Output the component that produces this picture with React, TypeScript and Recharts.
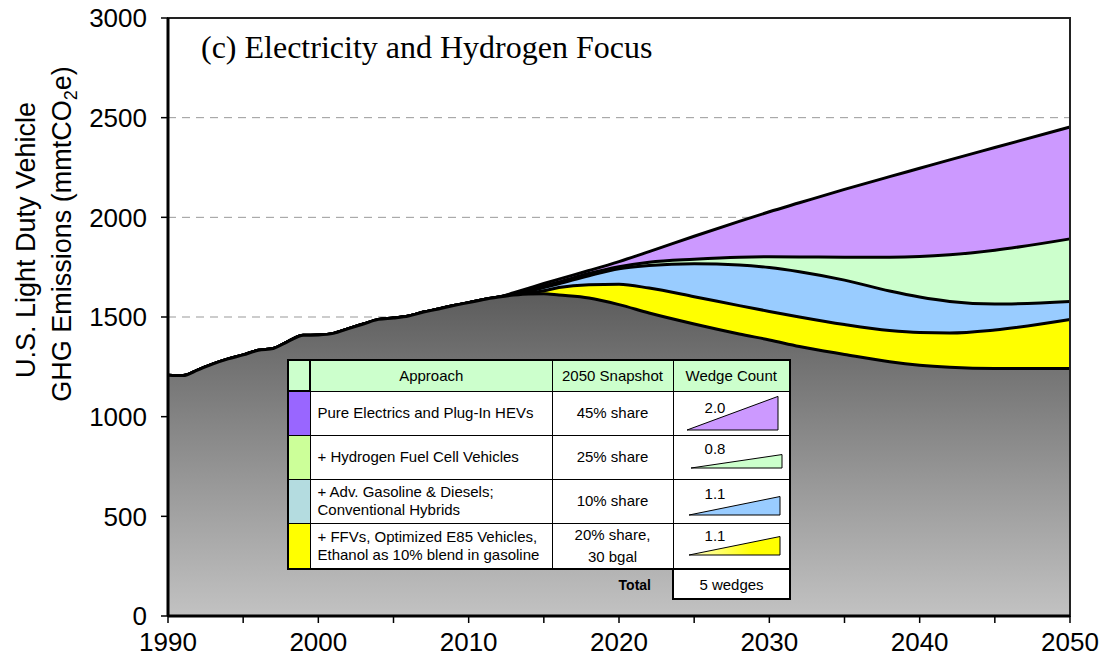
import { Area, CartesianGrid, ComposedChart, ReferenceArea, XAxis, YAxis } from "recharts";

// historical emissions (mmtCO2e)
const histYears = [1990, 1991, 1992, 1993, 1994, 1995, 1996, 1997, 1998, 1999, 2000, 2001, 2002, 2003, 2004, 2005, 2006, 2007, 2008, 2009, 2010, 2011];
const histBase = [1208, 1206, 1235, 1265, 1290, 1310, 1333, 1342, 1378, 1408, 1410, 1418, 1442, 1465, 1488, 1495, 1505, 1525, 1540, 1558, 1572, 1588];

// projection: top edge of each band
const projYears = [2012, 2013, 2014, 2015, 2016, 2018, 2020, 2022, 2025, 2028, 2030, 2032, 2035, 2038, 2040, 2042, 2045, 2050];
const projBase = [1600, 1610, 1616, 1617, 1610, 1595, 1562, 1520, 1465, 1415, 1385, 1352, 1312, 1275, 1258, 1248, 1242, 1242];
const ethanolTop = [1600, 1611, 1620, 1632, 1648, 1662, 1664, 1645, 1602, 1557, 1528, 1500, 1462, 1432, 1422, 1420, 1435, 1487];
const efficiencyTop = [1600, 1614, 1630, 1648, 1667, 1707, 1742, 1758, 1767, 1761, 1748, 1727, 1685, 1630, 1600, 1578, 1565, 1578];
const hydrogenTop = [1600, 1617, 1636, 1656, 1676, 1718, 1752, 1775, 1790, 1800, 1802, 1801, 1800, 1800, 1803, 1812, 1835, 1892];
const businessAsUsual = [1600, 1622, 1645, 1668, 1690, 1733, 1778, 1828, 1905, 1980, 2028, 2073, 2140, 2204, 2246, 2288, 2350, 2453];

const yTicks = [0, 500, 1000, 1500, 2000, 2500, 3000];
const xTicks = [1990, 1995, 2000, 2005, 2010, 2015, 2020, 2025, 2030, 2035, 2040, 2045, 2050];

// table
const approaches = [
  ["Pure Electrics and Plug-In HEVs"],
  ["+ Hydrogen Fuel Cell Vehicles"],
  ["+ Adv. Gasoline & Diesels;", "Conventional Hybrids"],
  ["+ FFVs, Optimized E85 Vehicles,", "Ethanol as 10% blend in gasoline"],
];
const snapshots = [["45% share"], ["25% share"], ["10% share"], ["20% share,", "30 bgal"]];
const wedgeCounts = [2.0, 0.8, 1.1, 1.1];
const totalWedges = "5 wedges";

const swatchColors = ["#9966FF", "#CCFF99", "#B4DCE0", "#FFFF00"];
const wedgeColors = ["#CC99FF", "#CCFFCC", "#99CCFF", "#FFFF00"];
const wedgeFades = ["#CC99FF", "#CCFFCC", "#99CCFF", "#FFFFCC"];
const rowHeights = [44, 44, 44, 46];
const wedgeBottoms = [38, 32, 35, 31];
const wedgeLefts = [13, 17, 15, 15];
const labelBaselines = [21, 18, 19, 17];

const rows = [
  ...histYears.map((year, i) => ({
    year,
    base: histBase[i],
    ethanol: histBase[i],
    efficiency: histBase[i],
    hydrogen: histBase[i],
    bau: histBase[i],
  })),
  ...projYears.map((year, i) => ({
    year,
    base: projBase[i],
    ethanol: ethanolTop[i],
    efficiency: efficiencyTop[i],
    hydrogen: hydrogenTop[i],
    bau: businessAsUsual[i],
  })),
];

const sans = 'Arial, "Liberation Sans", sans-serif';
const line = "1.5px solid #000";

function WedgeTable() {
  const cell = { border: line, padding: "0 7px", verticalAlign: "middle" as const };
  return (
    <table
      style={{
        position: "absolute",
        left: 287,
        top: 359,
        width: 502,
        borderCollapse: "collapse",
        tableLayout: "fixed",
        fontFamily: sans,
        fontSize: 15,
        color: "#000",
      }}
    >
      <colgroup>
        <col style={{ width: 22 }} />
        <col style={{ width: 242 }} />
        <col style={{ width: 121 }} />
        <col style={{ width: 117 }} />
      </colgroup>
      <tbody>
        <tr style={{ height: 31, background: "#CCFFCC" }}>
          <td style={{ ...cell, border: "2px solid #000" }} />
          <td style={{ ...cell, textAlign: "center", borderTop: "2px solid #000" }}>Approach</td>
          <td style={{ ...cell, textAlign: "center", borderTop: "2px solid #000" }}>2050 Snapshot</td>
          <td style={{ ...cell, textAlign: "center", border: "2px solid #000", borderLeft: line, borderBottom: line }}>Wedge Count</td>
        </tr>
        {approaches.map((lines, i) => {
          const h = wedgeCounts[i] * 16.8;
          const bottom = wedgeBottoms[i];
          const left = wedgeLefts[i];
          const right = left + 91;
          return (
            <tr key={i} style={{ height: rowHeights[i], background: "#fff" }}>
              <td style={{ ...cell, background: swatchColors[i], borderLeft: "2px solid #000", borderBottom: i === 3 ? "2px solid #000" : line }} />
              <td style={{ ...cell, lineHeight: "18px", borderBottom: i === 3 ? "2px solid #000" : line }}>
                {lines.map((t, k) => (
                  <div key={k}>{t}</div>
                ))}
              </td>
              <td style={{ ...cell, textAlign: "center", lineHeight: "22px", borderBottom: i === 3 ? "2px solid #000" : line }}>
                {snapshots[i].map((t, k) => (
                  <div key={k}>{t}</div>
                ))}
              </td>
              <td style={{ ...cell, padding: 0, position: "relative", borderRight: "2px solid #000" }}>
                <svg width={116} height={rowHeights[i]} style={{ position: "absolute", left: 0, top: 0 }}>
                  <defs>
                    <linearGradient id={`wg${i}`} x1="0" x2="1" y1="0" y2="0">
                      <stop offset="0" stopColor={wedgeFades[i]} />
                      <stop offset="0.7" stopColor={wedgeColors[i]} />
                      <stop offset="1" stopColor={wedgeColors[i]} />
                    </linearGradient>
                  </defs>
                  <polygon
                    points={`${left},${bottom} ${right},${bottom - h} ${right},${bottom}`}
                    fill={`url(#wg${i})`}
                    stroke="#000"
                    strokeWidth={1}
                  />
                  <text x={41} y={labelBaselines[i]} textAnchor="middle" fontFamily={sans} fontSize={15}>
                    {wedgeCounts[i].toFixed(1)}
                  </text>
                </svg>
              </td>
            </tr>
          );
        })}
        <tr style={{ height: 30 }}>
          <td style={{ border: "none", borderTop: "2px solid #000" }} />
          <td style={{ border: "none", borderTop: "2px solid #000" }} />
          <td style={{ border: "none", borderTop: "2px solid #000", textAlign: "right", paddingRight: 21, fontWeight: 600, fontSize: 14 }}>
            Total
          </td>
          <td style={{ border: "2px solid #000", textAlign: "center", background: "#fff" }}>{totalWedges}</td>
        </tr>
      </tbody>
    </table>
  );
}

export default function App() {
  return (
    <div style={{ position: "absolute", left: 0, top: 0, width: 1102, height: 666, background: "#fff" }}>
      <ComposedChart width={1102} height={666} data={rows} margin={{ top: 18, right: 32, bottom: 0, left: 0 }}>
        <defs>
          <linearGradient id="baseFill" x1="0" x2="0" y1="0" y2="1">
            <stop offset="0" stopColor="#5c5c5c" />
            <stop offset="1" stopColor="#c2c2c2" />
          </linearGradient>
        </defs>
        <CartesianGrid vertical={false} horizontalValues={[1500, 2000, 2500]} stroke="#999" strokeDasharray="8 6" />
        <XAxis
          dataKey="year"
          type="number"
          domain={[1990, 2050]}
          ticks={xTicks}
          tickFormatter={(v: number) => (v % 10 === 0 ? String(v) : "")}
          height={50}
          tickSize={7}
          tickMargin={10}
          axisLine={{ stroke: "#000", strokeWidth: 3 }}
          tickLine={{ stroke: "#000", strokeWidth: 1.5 }}
          tick={{ fill: "#000", fontSize: 26, fontFamily: sans }}
          interval={0}
        />
        <YAxis
          type="number"
          domain={[0, 3000]}
          ticks={yTicks}
          width={168}
          tickSize={7}
          tickMargin={14}
          axisLine={{ stroke: "#000", strokeWidth: 3 }}
          tickLine={{ stroke: "#000", strokeWidth: 1.5 }}
          tick={{ fill: "#000", fontSize: 26, fontFamily: sans }}
          interval={0}
        />
        <Area type="monotone" dataKey="bau" fill="#CC99FF" fillOpacity={1} stroke="#000" strokeWidth={3} isAnimationActive={false} dot={false} activeDot={false} />
        <Area type="monotone" dataKey="hydrogen" fill="#CCFFCC" fillOpacity={1} stroke="#000" strokeWidth={3} isAnimationActive={false} dot={false} activeDot={false} />
        <Area type="monotone" dataKey="efficiency" fill="#99CCFF" fillOpacity={1} stroke="#000" strokeWidth={3} isAnimationActive={false} dot={false} activeDot={false} />
        <Area type="monotone" dataKey="ethanol" fill="#FFFF00" fillOpacity={1} stroke="#000" strokeWidth={3} isAnimationActive={false} dot={false} activeDot={false} />
        <Area type="monotone" dataKey="base" fill="url(#baseFill)" fillOpacity={1} stroke="#000" strokeWidth={3} isAnimationActive={false} dot={false} activeDot={false} />
        <ReferenceArea x1={1990} x2={2050} y1={0} y2={3000} fill="none" stroke="#222" strokeWidth={2} ifOverflow="visible" />
      </ComposedChart>

      <svg width={110} height={666} style={{ position: "absolute", left: 0, top: 0, pointerEvents: "none" }}>
        <text transform="translate(35,240) rotate(-90)" textAnchor="middle" fontFamily={sans} fontSize={27} fill="#000">
          U.S. Light Duty Vehicle
        </text>
        <text transform="translate(71,234) rotate(-90)" textAnchor="middle" fontFamily={sans} fontSize={27} fill="#000">
          GHG Emissions (mmtCO
          <tspan dy={6} fontSize={18}>2</tspan>
          <tspan dy={-6}>e)</tspan>
        </text>
      </svg>

      <div
        style={{
          position: "absolute",
          left: 201,
          top: 27,
          fontFamily: '"Times New Roman", "Liberation Serif", serif',
          fontSize: 32,
          lineHeight: "40px",
          whiteSpace: "nowrap",
          color: "#000",
        }}
      >
        (c) Electricity and Hydrogen Focus
      </div>

      <WedgeTable />
    </div>
  );
}
